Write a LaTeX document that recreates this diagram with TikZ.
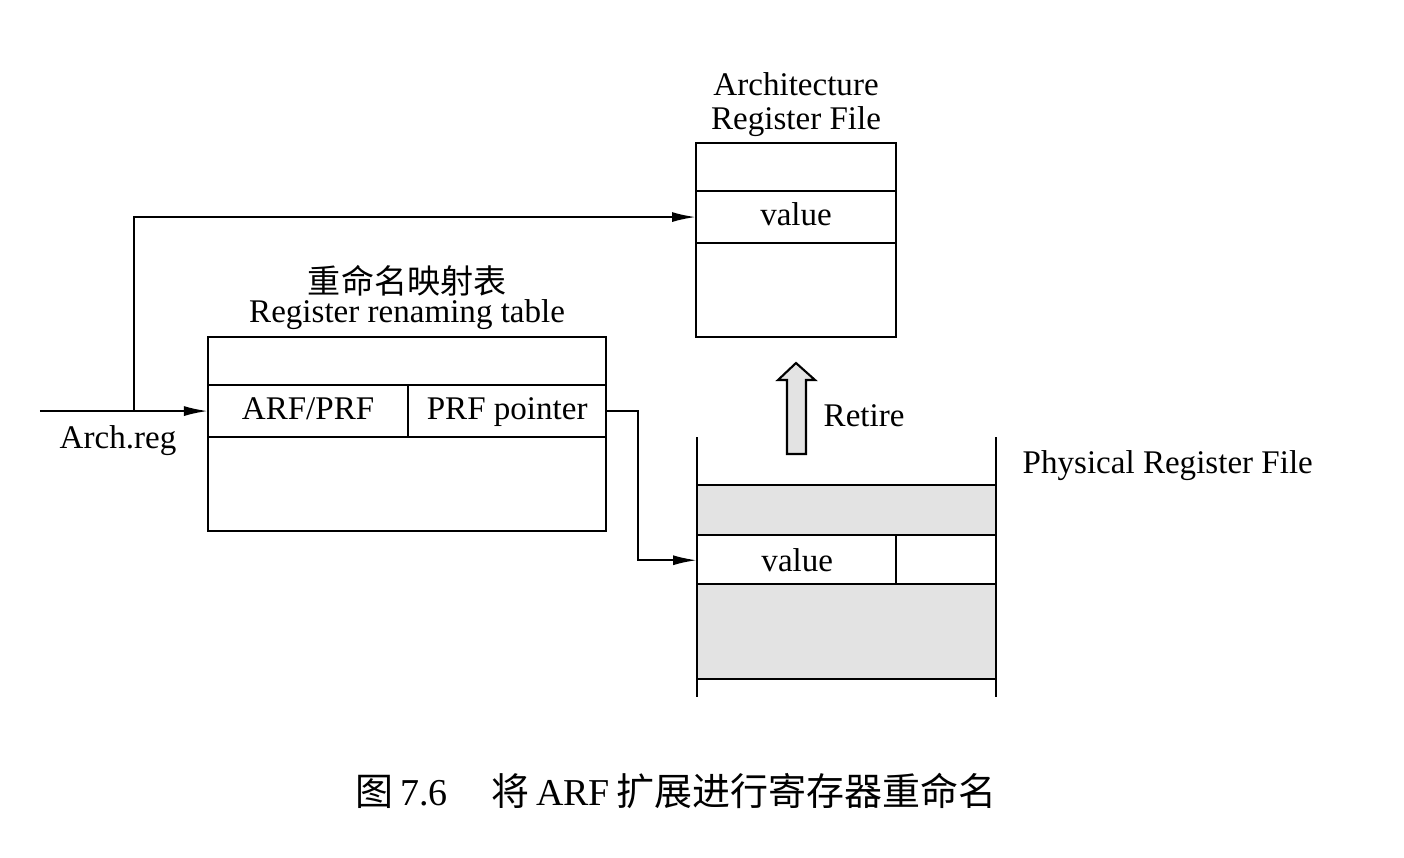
\documentclass[tikz,border=0pt]{standalone}
\usepackage{fontspec}
\setmainfont{Liberation Serif}
\newfontfamily\cjk{Noto Sans CJK SC}
\usetikzlibrary{arrows.meta,positioning}

\tikzset{
  cell/.style={draw, line width=0.6pt, inner sep=0pt, outer sep=0pt, anchor=north west,
    text height=0.7em, text depth=0.2em, font=\fontsize{9.4}{10}\selectfont},
  lbl/.style={font=\fontsize{9.4}{9.6}\selectfont, inner sep=0pt},
  link/.style={line width=0.6pt, -{Latex[length=2.4mm,width=1mm]}},
  shade/.style={fill=gray!22},
}

\begin{document}
\begin{tikzpicture}[x=0.01cm, y=-0.01cm]
    \useasboundingbox (0,0) rectangle (1404,857);
    % architecture register file
    \node[cell, minimum width=2cm, minimum height=4.8mm] (arf1) at (696,143) {};
    \node[cell, minimum width=2cm, minimum height=5.2mm, below=0pt of arf1] (arfval) {value};
    \node[cell, minimum width=2cm, minimum height=9.4mm, below=0pt of arfval] (arf3) {};
    \node[lbl, align=center, above=0.6mm of arf1] (arflbl) {Architecture\\Register File};
    % register renaming table
    \node[cell, minimum width=3.98cm, minimum height=4.8mm] (rnt1) at (208,337) {};
    \node[cell, minimum width=2cm, minimum height=5.2mm, below=0pt of rnt1.south west, anchor=north west] (arfprf) {ARF/PRF};
    \node[cell, minimum width=1.98cm, minimum height=5.2mm, right=0pt of arfprf] (ptr) {PRF pointer};
    \node[cell, minimum width=3.98cm, minimum height=9.4mm, below=0pt of arfprf.south west, anchor=north west] (rnt3) {};
    \node[lbl, align=center, above=0.7mm of rnt1] (rntlbl) {{\cjk 重命名映射表}\\[-0.5mm]Register renaming table};
    % physical register file
    \fill[shade] (697,485) rectangle (996,535);
    \fill[shade] (697,584) rectangle (996,679);
    \draw[line width=0.6pt] (697,437) -- (697,697);
    \draw[line width=0.6pt] (996,437) -- (996,697);
    \foreach \y in {485,535,584,679}
        \draw[line width=0.6pt] (697,\y) -- (996,\y);
    \draw[line width=0.6pt] (896,535) -- (896,584);
    \node[lbl, minimum width=1.99cm, minimum height=4.9mm, anchor=north west] (prfval) at (697,535) {value};
    \node[lbl, anchor=west] (prflbl) at (1022,466) {Physical Register File};
    % retire arrow
    \draw[line width=0.6pt, shade] (787,454) -- (787,380) -- (778,380) -- (796,363)
        -- (815,380) -- (806,380) -- (806,454) -- cycle;
    \node[lbl, anchor=west] (retire) at (823,416) {Retire};
    % connectors
    \coordinate[left=1.68cm of arfprf.west] (in);
    \coordinate[right=0.94cm of in] (split);
    \node[lbl] (archreg) at (118,441) {Arch.reg};
    \draw[link] (in) -- (arfprf.west);
    \draw[link] (split) |- (arfval.west);
    \draw[link] (ptr.east) -- ++(32,0) |- (prfval.west);
    % caption
    \node[font=\fontsize{10.8}{12}\selectfont, inner sep=0pt] (caption) at (676,791)
        {{\cjk 图}\,7.6\quad\,{\cjk 将}\,ARF\,{\cjk 扩展进行寄存器重命名}};
\end{tikzpicture}
\end{document}
